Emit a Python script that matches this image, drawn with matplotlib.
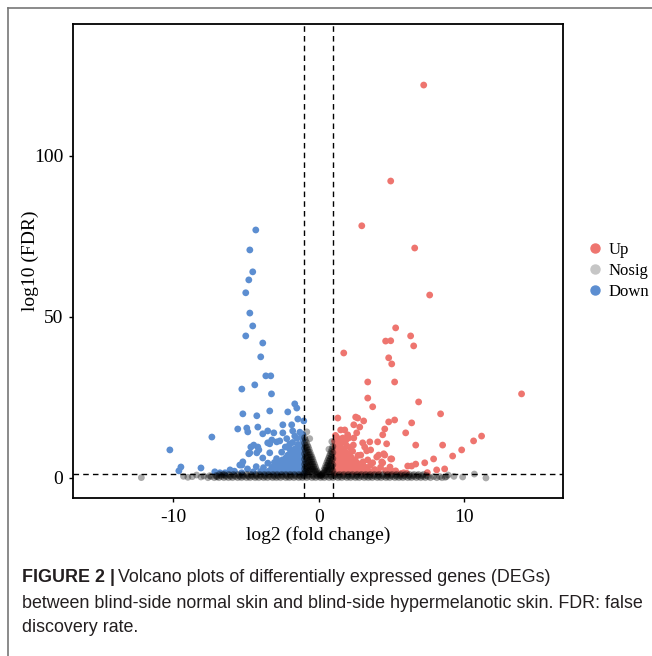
import matplotlib
matplotlib.use("Agg")
import matplotlib.pyplot as plt
from matplotlib.lines import Line2D
import numpy as np

# ---- data ----------------------------------------------------------------
# significantly up-regulated genes (log2 FC, -log10 FDR)
up_x = [7.22, 4.95, 2.96, 6.60, 7.63, 5.29, 6.32, 4.60, 4.95, 1.72, 6.53, 4.81, 5.02,
        3.37, 5.22, 3.37, 3.71, 6.87, 8.38, 13.95, 1.31, 2.54, 2.68, 3.09, 4.81, 5.22,
        6.39, 2.41, 2.82, 4.54, 1.51, 1.79, 2.61, 4.40, 5.98, 1.99, 2.06, 2.41, 4.67,
        4.05, 3.51, 3.02, 6.67, 8.52, 11.20, 10.65, 9.83, 9.21, 8.66, 8.11, 7.90, 7.29,
        6.67, 6.39, 6.12, 4.95, 4.47, 4.12, 4.33, 3.71, 3.30, 2.89, 3.16, 3.57, 7.47,
        6.03, 5.68, 5.29, 4.79, 5.84, 4.40, 3.02, 3.37, 3.99, 4.54, 5.02,
        1.05, 1.08, 1.06, 1.10, 1.07, 1.12, 1.09, 1.20, 1.22, 1.18, 1.25, 1.21, 1.24,
        1.38, 1.35, 1.41, 1.37, 1.43, 1.40, 1.55, 1.58, 1.52, 1.60, 1.56, 1.62, 1.72,
        1.75, 1.70, 1.78, 1.74, 1.90, 1.93, 1.88, 1.95, 1.92, 2.08, 2.10, 2.05, 2.12,
        2.27, 2.30, 2.25, 2.33, 2.45, 2.48, 2.50, 2.62, 2.66, 2.70, 2.80, 2.85, 2.98,
        3.05, 3.15, 3.22, 3.40, 3.55, 3.62, 3.85, 4.10, 4.25, 4.60, 4.90, 5.10, 2.15,
        2.38, 1.48, 1.85, 1.15, 1.30, 1.65, 1.45, 1.82]
up_y = [122.0, 92.2, 78.3, 71.4, 56.8, 46.6, 44.1, 42.5, 42.6, 38.8, 41.0, 37.3, 35.4,
        29.8, 29.8, 24.8, 22.1, 23.6, 19.9, 26.1, 18.6, 18.9, 18.6, 17.7, 17.4, 18.0,
        17.1, 16.5, 15.8, 15.2, 14.9, 14.9, 14.0, 13.4, 14.0, 13.4, 12.4, 12.4, 10.6,
        11.2, 11.2, 10.9, 10.2, 10.2, 13.0, 11.5, 8.7, 6.8, 2.8, 2.5, 5.9, 4.7,
        4.3, 3.7, 3.7, 5.9, 7.5, 7.1, 5.0, 4.7, 8.4, 7.1, 9.6, 8.7, 1.65,
        1.5, 1.4, 2.2, 1.5, 1.6, 4.7, 3.7, 5.6, 6.5, 7.1, 5.9,
        1.6, 3.2, 4.9, 6.5, 8.2, 9.8, 11.4, 2.4, 4.1, 5.7, 7.4, 9.0, 12.6,
        1.7, 3.3, 5.0, 6.6, 8.3, 10.1, 2.5, 4.2, 5.8, 7.5, 9.2, 11.0, 1.8,
        3.4, 5.1, 6.8, 8.6, 2.6, 4.3, 6.0, 7.7, 10.0, 1.9, 3.6, 5.3, 7.1,
        2.7, 4.5, 6.3, 8.3, 1.8, 3.6, 5.6, 2.6, 4.6, 7.0, 1.7, 3.4, 2.4,
        5.0, 1.8, 3.3, 2.2, 3.9, 1.7, 2.6, 1.8, 3.3, 2.3, 3.4, 2.0, 9.4,
        10.2, 12.0, 11.6, 13.2, 10.9, 12.4, 3.9, 4.6]

# significantly down-regulated genes
down_x = [-4.33, -4.74, -4.54, -4.81, -5.02, -4.74, -4.54, -5.02, -3.85, -3.99, -3.64,
          -3.30, -5.29, -4.40, -3.25, -1.65, -1.51, -2.13, -3.37, -5.22, -4.26, -1.03,
          -1.44, -5.57, -4.95, -4.88, -4.19, -7.35, -2.47, -1.86, -3.51, -3.09, -2.47,
          -1.79, -3.85, -3.23, -2.68, -4.47, -4.12, -4.74, -3.37, -2.06, -5.29, -3.85,
          -10.24, -9.48, -9.62, -8.10, -7.15, -6.80, -6.45, -5.43, -5.22, -4.81, -4.67,
          -4.19, -4.26, -3.51, -2.89, -3.37, -6.10, -5.80,
          -1.05, -1.08, -1.06, -1.10, -1.07, -1.12, -1.09, -1.10, -1.20, -1.22, -1.18,
          -1.25, -1.21, -1.38, -1.35, -1.41, -1.37, -1.43, -1.40, -1.55, -1.58, -1.52,
          -1.60, -1.56, -1.72, -1.75, -1.70, -1.78, -1.74, -1.90, -1.93, -1.88, -1.95,
          -2.08, -2.10, -2.05, -2.12, -2.27, -2.30, -2.25, -2.45, -2.48, -2.50, -2.55,
          -2.62, -2.66, -2.80, -2.85, -2.90, -2.98, -3.05, -3.15, -3.22, -3.40, -3.50,
          -3.62, -3.80, -4.00, -4.30, -4.50, -4.90, -5.30, -2.00, -2.30, -1.50, -1.80,
          -1.15, -1.30, -1.65, -2.20]
down_y = [77.0, 70.8, 64.0, 61.5, 57.5, 51.2, 47.2, 44.1, 41.9, 37.6, 31.7,
          31.7, 27.6, 28.9, 26.1, 23.0, 21.7, 20.5, 20.8, 19.9, 19.3, 17.7,
          18.3, 15.2, 15.5, 14.3, 15.8, 12.7, 16.5, 16.5, 14.6, 14.0, 14.0,
          14.6, 13.7, 11.8, 11.5, 10.2, 8.7, 7.8, 10.6, 9.3, 4.0, 6.2,
          8.7, 3.4, 2.2, 3.1, 1.9, 1.6, 1.6, 4.0, 5.0, 7.5, 9.6,
          9.6, 7.8, 10.9, 11.2, 7.8, 2.5, 2.1,
          1.6, 3.3, 5.0, 6.7, 8.4, 10.1, 11.8, 13.5, 2.4, 4.1, 5.8,
          7.5, 9.2, 1.7, 3.3, 5.0, 6.6, 8.4, 10.4, 2.5, 4.2, 5.9,
          7.5, 9.2, 1.8, 3.4, 5.1, 6.8, 8.8, 2.6, 4.3, 6.0, 7.8,
          1.9, 3.6, 5.3, 7.1, 2.7, 4.5, 6.3, 1.8, 3.6, 5.6, 8.0,
          2.6, 4.6, 1.7, 3.4, 6.0, 2.4, 4.8, 1.8, 3.3, 2.2, 4.6,
          1.7, 3.2, 2.0, 3.5, 1.9, 2.8, 1.6, 10.5, 9.6, 12.3, 11.0,
          12.9, 14.2, 13.0, 12.2]

# not significant genes: the dense band just above zero (one x list per row)
nosig_rows_y = [0.08, 0.42, 0.78, 1.12]
nosig_rows_x = [
    [-7.62, -7.18, -6.87, -6.52, -6.21, -5.93, -5.58, -5.31, -4.97, -4.72, -4.38, -4.12,
     -3.79, -3.52, -3.18, -2.91, -2.63, -2.27, -2.02, -1.71, -1.38, -1.12, -0.83, -0.47,
     -0.21, 0.12, 0.38, 0.71, 0.98, 1.32, 1.58, 1.93, 2.19, 2.52, 2.78, 3.13, 3.41, 3.68,
     4.03, 4.29, 4.62, 4.88, 5.23, 5.51, 5.79, 6.12, 6.38, 6.72, 7.02, 7.33, 7.68, 8.12,
     8.47],
    [-7.41, -7.02, -6.68, -6.37, -6.06, -5.74, -5.43, -5.16, -4.83, -4.54, -4.26, -3.95,
     -3.66, -3.34, -3.05, -2.77, -2.46, -2.14, -1.87, -1.55, -1.26, -0.97, -0.66, -0.34,
     -0.05, 0.26, 0.55, 0.86, 1.15, 1.46, 1.77, 2.06, 2.36, 2.65, 2.96, 3.27, 3.55, 3.86,
     4.15, 4.46, 4.75, 5.06, 5.37, 5.66, 5.95, 6.26, 6.55, 6.87, 7.18, 7.52, 7.91, 8.33,
     8.78],
    [-7.05, -6.74, -6.43, -6.11, -5.82, -5.49, -5.21, -4.90, -4.61, -4.30, -4.02, -3.71,
     -3.42, -3.11, -2.84, -2.52, -2.23, -1.93, -1.63, -1.32, -1.04, -0.73, -0.41, -0.12,
     0.18, 0.47, 0.79, 1.07, 1.38, 1.68, 1.99, 2.28, 2.58, 2.89, 3.20, 3.49, 3.79, 4.08,
     4.39, 4.69, 4.98, 5.30, 5.59, 5.88, 6.19, 6.49, 6.80, 7.11, 7.43],
    [-6.83, -6.50, -6.18, -5.86, -5.55, -5.25, -4.94, -4.65, -4.34, -4.05, -3.74, -3.45,
     -3.14, -2.86, -2.55, -2.26, -1.96, -1.67, -1.36, -1.08, -0.77, -0.45, -0.16, 0.21,
     0.52, 0.83, 1.12, 1.42, 1.72, 2.03, 2.32, 2.63, 2.93, 3.23, 3.53, 3.83, 4.13, 4.43,
     4.74, 5.03, 5.34, 5.64, 5.94, 6.24, 6.55, 6.86, 7.20],
]
# not significant genes: the "V" between -1 and 1, plus scattered outliers
nosig_x = [-0.98, -0.98, -0.98, -0.98, -0.98, -0.98, -0.98, -0.98, -0.92, -0.92, -0.92,
           -0.92, -0.92, -0.92, -0.92, -0.85, -0.85, -0.85, -0.85, -0.85, -0.85, -0.85,
           -0.78, -0.78, -0.78, -0.78, -0.78, -0.78, -0.72, -0.72, -0.72, -0.72, -0.72,
           -0.72, -0.66, -0.66, -0.66, -0.66, -0.66, -0.60, -0.60, -0.60, -0.60, -0.60,
           -0.53, -0.53, -0.53, -0.53, -0.47, -0.47, -0.47, -0.47, -0.41, -0.41, -0.41,
           -0.35, -0.35, -0.35, -0.28, -0.28, -0.22, -0.22, -0.16, -0.10, -0.04, 0.02,
           0.08, 0.12, 0.20, 0.28, 0.35, 0.35, 0.42, 0.42, 0.48, 0.48, 0.55, 0.55, 0.55,
           0.61, 0.61, 0.61, 0.67, 0.67, 0.67, 0.73, 0.73, 0.73, 0.73, 0.79, 0.79, 0.79,
           0.79, 0.85, 0.85, 0.85, 0.85, 0.91, 0.91, 0.91, 0.91, 0.91, 0.97, 0.97, 0.97,
           0.97, 0.97,
           -0.82, -0.62, 0.90, 0.70, -12.2, -9.30, -9.00, -8.70, -8.40, -8.10, -7.90,
           9.90, 10.70, 11.50, 9.30, 8.90, 8.70, -7.50, -7.00, -6.60]
nosig_y = [12.5, 10.8, 9.2, 7.5, 5.8, 4.2, 2.8, 1.6, 11.8, 10.0, 8.3, 6.6, 4.9, 3.4, 2.0,
           11.0, 9.4, 7.8, 6.1, 4.5, 3.0, 1.7, 10.2, 8.6, 6.9, 5.3, 3.7, 2.3,
           9.6, 8.0, 6.4, 4.8, 3.3, 2.0, 8.8, 7.2, 5.6, 4.0, 2.5, 8.0, 6.5, 5.0,
           3.5, 2.1, 7.2, 5.7, 4.2, 2.7, 6.5, 5.0, 3.5, 2.1, 5.8, 4.2, 2.7,
           5.0, 3.5, 2.1, 4.2, 2.6, 3.4, 2.0, 2.6, 2.0, 1.5, 1.2,
           0.9, 0.6, 1.0, 1.4, 2.4, 1.6, 3.1, 2.0, 3.9, 2.5, 4.7, 3.3, 2.0,
           5.4, 3.9, 2.4, 6.1, 4.5, 2.8, 6.8, 5.2, 3.6, 2.2, 7.5, 5.8, 4.1,
           2.5, 8.2, 6.4, 4.6, 2.9, 9.0, 7.2, 5.4, 3.6, 2.0, 9.8, 7.9, 6.0,
           4.1, 2.3,
           14.3, 12.2, 11.3, 8.9, 0.1, 0.5, 0.2, 0.4, 0.9, 0.3, 0.6,
           0.3, 1.2, 0.0, 0.5, 0.9, 0.2, 0.7, 0.4, 1.0]

for yy, xs in zip(nosig_rows_y, nosig_rows_x):
    nosig_x = nosig_x + xs
    nosig_y = nosig_y + [yy] * len(xs)

fc_cut = 1
fdr_cut = 1.3  # -log10(0.05)

red = "#EE756F"
blue = "#5C8ED1"
grey = "#C6C6C6"

# ---- figure ---------------------------------------------------------------
plt.rcParams["font.family"] = "Liberation Serif"
plt.rcParams["axes.unicode_minus"] = False
fig = plt.figure(figsize=(6.52, 6.56), dpi=100)
ax = fig.add_axes([0.112, 0.241, 0.7515, 0.7226])

ax.scatter(up_x, up_y, s=24, color=red, edgecolors="none", zorder=2)
ax.scatter(down_x, down_y, s=24, color=blue, edgecolors="none", zorder=2)
ax.scatter(nosig_x, nosig_y, s=24, color="black", alpha=0.33, edgecolors="none", zorder=3)

ax.axhline(fdr_cut, color="black", lw=1.0, ls=(0, (4, 3)), zorder=4)
ax.axvline(-fc_cut, color="black", lw=1.0, ls=(0, (4, 3)), zorder=4)
ax.axvline(fc_cut, color="black", lw=1.0, ls=(0, (4, 3)), zorder=4)

ax.set_xlim(-16.9, 16.8)
ax.set_ylim(-6.2, 141)
ax.set_xticks([-10, 0, 10])
ax.set_yticks([0, 50, 100])
ax.tick_params(labelsize=14, length=3, width=1, pad=4, color="black")
ax.tick_params(axis="x", pad=5)
for sp in ax.spines.values():
    sp.set_linewidth(1.3)
ax.set_xlabel("log2 (fold change)", fontsize=14, labelpad=0)
ax.set_ylabel("log10 (FDR)", fontsize=14, labelpad=-4)

handles = [Line2D([], [], marker="o", ls="none", color=c, markersize=6.5)
           for c in (red, grey, blue)]
fig.legend(handles, ["Up", "Nosig", "Down"], loc="center left",
           bbox_to_anchor=(0.885, 0.587), frameon=False, fontsize=12,
           handletextpad=0.3, labelspacing=0.3, handlelength=1.0,
           borderaxespad=0.2)

# outer frame lines of the journal figure
fig.add_artist(Line2D([8 / 652, 1], [1 - 8 / 656, 1 - 8 / 656], color="#777777", lw=1.2))
fig.add_artist(Line2D([8 / 652, 8 / 652], [0, 1 - 8 / 656], color="#777777", lw=1.2))

# caption
cap_font = "Liberation Sans"
cap_size = 12.9
fig.canvas.draw()
t0 = fig.text(22 / 652, 1 - 578 / 656, "FIGURE 2 |", family=cap_font, fontsize=cap_size,
              fontweight="bold", va="center", color="#231F20")
bb = t0.get_window_extent(fig.canvas.get_renderer())
fig.text((bb.x1 + 3) / 652, 1 - 578 / 656,
         "Volcano plots of differentially expressed genes (DEGs)",
         family=cap_font, fontsize=cap_size, va="center", color="#231F20")
fig.text(22 / 652, 1 - 603 / 656,
         "between blind-side normal skin and blind-side hypermelanotic skin. FDR: false",
         family=cap_font, fontsize=cap_size, va="center", color="#231F20")
fig.text(22 / 652, 1 - 628 / 656, "discovery rate.",
         family=cap_font, fontsize=cap_size, va="center", color="#231F20")

fig.savefig("out.png", dpi=100)
